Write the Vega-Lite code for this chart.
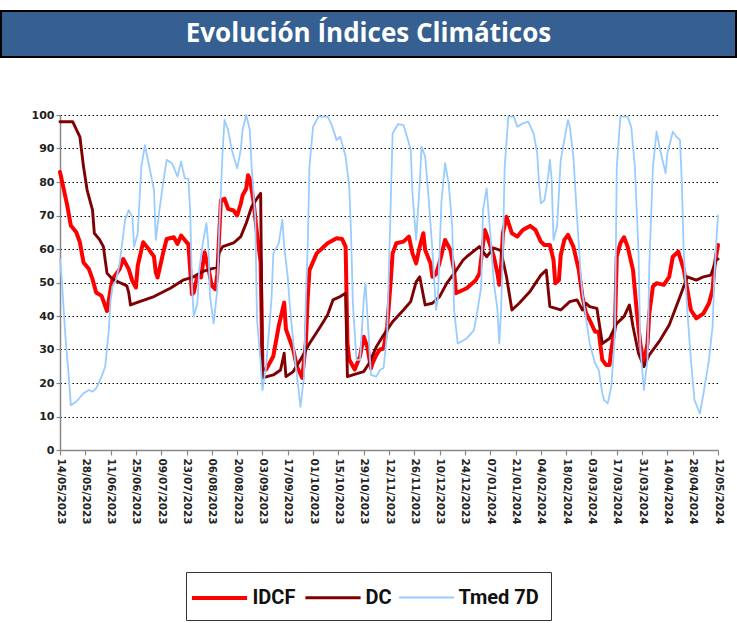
{
"$schema": "https://vega.github.io/schema/vega-lite/v6.json",
"padding": {"top": 10, "left": 0, "right": 0, "bottom": 0},
"autosize": {"type": "pad"},
"spacing": 51,
"config": {"view": {"stroke": null}, "font": "DejaVu Sans",
"legend": {"orient": "none", "legendX": 185, "legendY": 561, "direction": "horizontal", "title": null,
"symbolType": "M-2.3,0L2.3,0", "symbolSize": 576, "symbolOffset": 7.5, "labelFont": "Roboto", "labelFontWeight": "bold", "labelFontSize": 20, "labelColor": "#111111",
"strokeColor": "#333333", "padding": 12, "columnPadding": 3, "labelOffset": 19}},
"vconcat": [
{
"data": {"values": [{"t": "Evolución Índices Climáticos"}]},
"width": 735, "height": 46,
"view": {"fill": "#366092", "stroke": "#000000", "strokeWidth": 2},
"mark": {"type": "text", "font": "Open Sans", "fontWeight": "bold", "fontSize": 26, "color": "#ffffff"},
"encoding": {"text": {"field": "t"}}
},
{
"data": {"values": [
{"s":"IDCF","d":"2023-05-14","v":83},{"s":"IDCF","d":"2023-05-16","v":78},{"s":"IDCF","d":"2023-05-18","v":73},{"s":"IDCF","d":"2023-05-20","v":67},{"s":"IDCF","d":"2023-05-23","v":65},{"s":"IDCF","d":"2023-05-25","v":62},{"s":"IDCF","d":"2023-05-27","v":56},{"s":"IDCF","d":"2023-05-30","v":54},{"s":"IDCF","d":"2023-06-01","v":51},{"s":"IDCF","d":"2023-06-03","v":47},{"s":"IDCF","d":"2023-06-06","v":46},{"s":"IDCF","d":"2023-06-08","v":43},{"s":"IDCF","d":"2023-06-09","v":41.5},{"s":"IDCF","d":"2023-06-11","v":48},{"s":"IDCF","d":"2023-06-12","v":51},{"s":"IDCF","d":"2023-06-16","v":54},{"s":"IDCF","d":"2023-06-18","v":57},{"s":"IDCF","d":"2023-06-21","v":54},{"s":"IDCF","d":"2023-06-23","v":50.5},{"s":"IDCF","d":"2023-06-25","v":48.5},{"s":"IDCF","d":"2023-06-26","v":55},{"s":"IDCF","d":"2023-06-29","v":62},{"s":"IDCF","d":"2023-07-02","v":60},{"s":"IDCF","d":"2023-07-05","v":57.7},{"s":"IDCF","d":"2023-07-06","v":53},{"s":"IDCF","d":"2023-07-07","v":51.5},{"s":"IDCF","d":"2023-07-10","v":58.7},{"s":"IDCF","d":"2023-07-12","v":63},{"s":"IDCF","d":"2023-07-16","v":63.5},{"s":"IDCF","d":"2023-07-18","v":61.5},{"s":"IDCF","d":"2023-07-20","v":64},{"s":"IDCF","d":"2023-07-23","v":62},{"s":"IDCF","d":"2023-07-24","v":61.5},{"s":"IDCF","d":"2023-07-26","v":46.5},{"s":"IDCF","d":"2023-07-27","v":47},{"s":"IDCF","d":"2023-07-29","v":52},{"s":"IDCF","d":"2023-07-31","v":51.5},{"s":"IDCF","d":"2023-08-02","v":59},{"s":"IDCF","d":"2023-08-04","v":54.5},{"s":"IDCF","d":"2023-08-06","v":49},{"s":"IDCF","d":"2023-08-08","v":48},{"s":"IDCF","d":"2023-08-09","v":52.5},{"s":"IDCF","d":"2023-08-11","v":74.5},{"s":"IDCF","d":"2023-08-13","v":75},{"s":"IDCF","d":"2023-08-15","v":72},{"s":"IDCF","d":"2023-08-18","v":71.5},{"s":"IDCF","d":"2023-08-20","v":70},{"s":"IDCF","d":"2023-08-22","v":73.5},{"s":"IDCF","d":"2023-08-23","v":76},{"s":"IDCF","d":"2023-08-25","v":78},{"s":"IDCF","d":"2023-08-26","v":82},{"s":"IDCF","d":"2023-08-27","v":81},{"s":"IDCF","d":"2023-08-29","v":74.5},{"s":"IDCF","d":"2023-08-31","v":64.5},{"s":"IDCF","d":"2023-09-02","v":56},{"s":"IDCF","d":"2023-09-03","v":24},{"s":"IDCF","d":"2023-09-05","v":24},{"s":"IDCF","d":"2023-09-09","v":28},{"s":"IDCF","d":"2023-09-12","v":37},{"s":"IDCF","d":"2023-09-15","v":44},{"s":"IDCF","d":"2023-09-16","v":36},{"s":"IDCF","d":"2023-09-20","v":30},{"s":"IDCF","d":"2023-09-22","v":25},{"s":"IDCF","d":"2023-09-25","v":21.5},{"s":"IDCF","d":"2023-09-27","v":32},{"s":"IDCF","d":"2023-09-28","v":45},{"s":"IDCF","d":"2023-09-29","v":53.7},{"s":"IDCF","d":"2023-10-03","v":58.7},{"s":"IDCF","d":"2023-10-09","v":61.7},{"s":"IDCF","d":"2023-10-14","v":63.2},{"s":"IDCF","d":"2023-10-17","v":63},{"s":"IDCF","d":"2023-10-19","v":60.7},{"s":"IDCF","d":"2023-10-20","v":32},{"s":"IDCF","d":"2023-10-21","v":27},{"s":"IDCF","d":"2023-10-24","v":24},{"s":"IDCF","d":"2023-10-27","v":28},{"s":"IDCF","d":"2023-10-29","v":33.8},{"s":"IDCF","d":"2023-10-31","v":30.8},{"s":"IDCF","d":"2023-11-02","v":24.4},{"s":"IDCF","d":"2023-11-03","v":26},{"s":"IDCF","d":"2023-11-05","v":28.4},{"s":"IDCF","d":"2023-11-07","v":30},{"s":"IDCF","d":"2023-11-09","v":30.3},{"s":"IDCF","d":"2023-11-11","v":36.8},{"s":"IDCF","d":"2023-11-13","v":50.7},{"s":"IDCF","d":"2023-11-14","v":58.7},{"s":"IDCF","d":"2023-11-16","v":61.7},{"s":"IDCF","d":"2023-11-20","v":62.2},{"s":"IDCF","d":"2023-11-23","v":63.7},{"s":"IDCF","d":"2023-11-25","v":58.7},{"s":"IDCF","d":"2023-11-27","v":55.7},{"s":"IDCF","d":"2023-11-29","v":60.7},{"s":"IDCF","d":"2023-12-01","v":64.7},{"s":"IDCF","d":"2023-12-02","v":59.7},{"s":"IDCF","d":"2023-12-05","v":55.7},{"s":"IDCF","d":"2023-12-06","v":51.7},{"s":"IDCF","d":"2023-12-08","v":52.5},{"s":"IDCF","d":"2023-12-10","v":56},{"s":"IDCF","d":"2023-12-13","v":62.7},{"s":"IDCF","d":"2023-12-16","v":59.7},{"s":"IDCF","d":"2023-12-18","v":53.7},{"s":"IDCF","d":"2023-12-19","v":46.8},{"s":"IDCF","d":"2023-12-25","v":48.3},{"s":"IDCF","d":"2023-12-30","v":50.7},{"s":"IDCF","d":"2024-01-01","v":52.7},{"s":"IDCF","d":"2024-01-04","v":65.7},{"s":"IDCF","d":"2024-01-06","v":62.7},{"s":"IDCF","d":"2024-01-09","v":57.7},{"s":"IDCF","d":"2024-01-11","v":52.7},{"s":"IDCF","d":"2024-01-12","v":49.3},{"s":"IDCF","d":"2024-01-13","v":54.7},{"s":"IDCF","d":"2024-01-14","v":64.7},{"s":"IDCF","d":"2024-01-16","v":69.6},{"s":"IDCF","d":"2024-01-19","v":64.7},{"s":"IDCF","d":"2024-01-22","v":63.7},{"s":"IDCF","d":"2024-01-25","v":65.7},{"s":"IDCF","d":"2024-01-29","v":66.9},{"s":"IDCF","d":"2024-02-01","v":65.7},{"s":"IDCF","d":"2024-02-04","v":62.2},{"s":"IDCF","d":"2024-02-06","v":61.2},{"s":"IDCF","d":"2024-02-09","v":61.2},{"s":"IDCF","d":"2024-02-11","v":56.7},{"s":"IDCF","d":"2024-02-12","v":49.8},{"s":"IDCF","d":"2024-02-14","v":50.7},{"s":"IDCF","d":"2024-02-15","v":58.2},{"s":"IDCF","d":"2024-02-17","v":62.7},{"s":"IDCF","d":"2024-02-19","v":64.2},{"s":"IDCF","d":"2024-02-22","v":60.7},{"s":"IDCF","d":"2024-02-25","v":53.7},{"s":"IDCF","d":"2024-02-27","v":45.8},{"s":"IDCF","d":"2024-02-29","v":40.8},{"s":"IDCF","d":"2024-03-02","v":38.8},{"s":"IDCF","d":"2024-03-05","v":35.3},{"s":"IDCF","d":"2024-03-07","v":35.3},{"s":"IDCF","d":"2024-03-09","v":26.9},{"s":"IDCF","d":"2024-03-11","v":25.4},{"s":"IDCF","d":"2024-03-13","v":25.4},{"s":"IDCF","d":"2024-03-14","v":29.9},{"s":"IDCF","d":"2024-03-16","v":36.8},{"s":"IDCF","d":"2024-03-17","v":57.7},{"s":"IDCF","d":"2024-03-19","v":61.7},{"s":"IDCF","d":"2024-03-21","v":63.5},{"s":"IDCF","d":"2024-03-23","v":60.7},{"s":"IDCF","d":"2024-03-26","v":53.7},{"s":"IDCF","d":"2024-03-28","v":41.8},{"s":"IDCF","d":"2024-03-30","v":31.8},{"s":"IDCF","d":"2024-04-01","v":25.9},{"s":"IDCF","d":"2024-04-03","v":31.8},{"s":"IDCF","d":"2024-04-04","v":40.8},{"s":"IDCF","d":"2024-04-06","v":48.8},{"s":"IDCF","d":"2024-04-08","v":49.8},{"s":"IDCF","d":"2024-04-12","v":49.3},{"s":"IDCF","d":"2024-04-15","v":51.7},{"s":"IDCF","d":"2024-04-17","v":57.7},{"s":"IDCF","d":"2024-04-20","v":59.2},{"s":"IDCF","d":"2024-04-23","v":54},{"s":"IDCF","d":"2024-04-25","v":48},{"s":"IDCF","d":"2024-04-27","v":41.8},{"s":"IDCF","d":"2024-04-30","v":39.3},{"s":"IDCF","d":"2024-05-04","v":40.8},{"s":"IDCF","d":"2024-05-07","v":43.8},{"s":"IDCF","d":"2024-05-09","v":47.8},{"s":"IDCF","d":"2024-05-10","v":54.7},{"s":"IDCF","d":"2024-05-12","v":61.2},
{"s":"DC","d":"2023-05-14","v":98},{"s":"DC","d":"2023-05-21","v":98},{"s":"DC","d":"2023-05-25","v":93.5},{"s":"DC","d":"2023-05-27","v":84.6},{"s":"DC","d":"2023-05-29","v":77.6},{"s":"DC","d":"2023-06-01","v":71.6},{"s":"DC","d":"2023-06-02","v":64.7},{"s":"DC","d":"2023-06-05","v":62.7},{"s":"DC","d":"2023-06-07","v":60.7},{"s":"DC","d":"2023-06-09","v":52.8},{"s":"DC","d":"2023-06-12","v":51},{"s":"DC","d":"2023-06-16","v":50},{"s":"DC","d":"2023-06-20","v":49},{"s":"DC","d":"2023-06-21","v":47},{"s":"DC","d":"2023-06-22","v":43.3},{"s":"DC","d":"2023-06-27","v":44.3},{"s":"DC","d":"2023-07-05","v":45.8},{"s":"DC","d":"2023-07-14","v":48.3},{"s":"DC","d":"2023-07-21","v":50.7},{"s":"DC","d":"2023-07-27","v":51.7},{"s":"DC","d":"2023-07-29","v":52.4},{"s":"DC","d":"2023-08-02","v":53.5},{"s":"DC","d":"2023-08-09","v":54.6},{"s":"DC","d":"2023-08-10","v":58.8},{"s":"DC","d":"2023-08-12","v":60.7},{"s":"DC","d":"2023-08-18","v":61.8},{"s":"DC","d":"2023-08-22","v":63.7},{"s":"DC","d":"2023-08-25","v":67.7},{"s":"DC","d":"2023-08-28","v":72.6},{"s":"DC","d":"2023-08-31","v":75.1},{"s":"DC","d":"2023-09-02","v":76.6},{"s":"DC","d":"2023-09-03","v":21.5},{"s":"DC","d":"2023-09-09","v":22.4},{"s":"DC","d":"2023-09-13","v":23.9},{"s":"DC","d":"2023-09-15","v":28.9},{"s":"DC","d":"2023-09-16","v":21.9},{"s":"DC","d":"2023-09-20","v":23.4},{"s":"DC","d":"2023-09-24","v":26.9},{"s":"DC","d":"2023-09-29","v":31.8},{"s":"DC","d":"2023-10-05","v":36.8},{"s":"DC","d":"2023-10-09","v":40.3},{"s":"DC","d":"2023-10-12","v":44.8},{"s":"DC","d":"2023-10-16","v":45.8},{"s":"DC","d":"2023-10-19","v":46.8},{"s":"DC","d":"2023-10-20","v":21.9},{"s":"DC","d":"2023-10-23","v":22.4},{"s":"DC","d":"2023-10-29","v":23.4},{"s":"DC","d":"2023-11-01","v":25.9},{"s":"DC","d":"2023-11-05","v":30.8},{"s":"DC","d":"2023-11-09","v":34.3},{"s":"DC","d":"2023-11-14","v":38.3},{"s":"DC","d":"2023-11-20","v":41.8},{"s":"DC","d":"2023-11-24","v":44.3},{"s":"DC","d":"2023-11-27","v":50.2},{"s":"DC","d":"2023-11-29","v":51.7},{"s":"DC","d":"2023-12-02","v":43.3},{"s":"DC","d":"2023-12-06","v":43.8},{"s":"DC","d":"2023-12-10","v":45.8},{"s":"DC","d":"2023-12-14","v":49.8},{"s":"DC","d":"2023-12-18","v":52.7},{"s":"DC","d":"2023-12-23","v":56.7},{"s":"DC","d":"2023-12-25","v":57.7},{"s":"DC","d":"2024-01-01","v":60.7},{"s":"DC","d":"2024-01-05","v":57.7},{"s":"DC","d":"2024-01-09","v":60.3},{"s":"DC","d":"2024-01-13","v":59.5},{"s":"DC","d":"2024-01-14","v":56.7},{"s":"DC","d":"2024-01-16","v":51.7},{"s":"DC","d":"2024-01-19","v":41.8},{"s":"DC","d":"2024-01-23","v":43.8},{"s":"DC","d":"2024-01-29","v":47.3},{"s":"DC","d":"2024-02-04","v":52.2},{"s":"DC","d":"2024-02-07","v":53.7},{"s":"DC","d":"2024-02-09","v":42.8},{"s":"DC","d":"2024-02-15","v":41.8},{"s":"DC","d":"2024-02-20","v":44.3},{"s":"DC","d":"2024-02-24","v":44.8},{"s":"DC","d":"2024-02-27","v":41.8},{"s":"DC","d":"2024-02-29","v":43.8},{"s":"DC","d":"2024-03-02","v":42.8},{"s":"DC","d":"2024-03-06","v":42.3},{"s":"DC","d":"2024-03-09","v":31.8},{"s":"DC","d":"2024-03-13","v":33.3},{"s":"DC","d":"2024-03-17","v":37.8},{"s":"DC","d":"2024-03-21","v":39.8},{"s":"DC","d":"2024-03-24","v":43.3},{"s":"DC","d":"2024-03-26","v":36.8},{"s":"DC","d":"2024-03-29","v":28.9},{"s":"DC","d":"2024-04-01","v":24.9},{"s":"DC","d":"2024-04-04","v":28.4},{"s":"DC","d":"2024-04-10","v":32.8},{"s":"DC","d":"2024-04-15","v":37.3},{"s":"DC","d":"2024-04-21","v":45.8},{"s":"DC","d":"2024-04-25","v":51.7},{"s":"DC","d":"2024-04-30","v":50.7},{"s":"DC","d":"2024-05-04","v":51.7},{"s":"DC","d":"2024-05-08","v":52.2},{"s":"DC","d":"2024-05-11","v":56.7},{"s":"DC","d":"2024-05-12","v":57},
{"s":"Tmed 7D","d":"2023-05-14","v":57},{"s":"Tmed 7D","d":"2023-05-15","v":50.7},{"s":"Tmed 7D","d":"2023-05-17","v":33.8},{"s":"Tmed 7D","d":"2023-05-19","v":20.9},{"s":"Tmed 7D","d":"2023-05-20","v":13.4},{"s":"Tmed 7D","d":"2023-05-23","v":14.4},{"s":"Tmed 7D","d":"2023-05-27","v":16.9},{"s":"Tmed 7D","d":"2023-05-30","v":17.9},{"s":"Tmed 7D","d":"2023-06-01","v":17.4},{"s":"Tmed 7D","d":"2023-06-03","v":18.4},{"s":"Tmed 7D","d":"2023-06-06","v":21.9},{"s":"Tmed 7D","d":"2023-06-08","v":24.9},{"s":"Tmed 7D","d":"2023-06-10","v":35.8},{"s":"Tmed 7D","d":"2023-06-11","v":44.8},{"s":"Tmed 7D","d":"2023-06-12","v":48.8},{"s":"Tmed 7D","d":"2023-06-14","v":50.7},{"s":"Tmed 7D","d":"2023-06-16","v":55.7},{"s":"Tmed 7D","d":"2023-06-19","v":68.7},{"s":"Tmed 7D","d":"2023-06-21","v":71.6},{"s":"Tmed 7D","d":"2023-06-23","v":69.6},{"s":"Tmed 7D","d":"2023-06-24","v":60.7},{"s":"Tmed 7D","d":"2023-06-26","v":64.7},{"s":"Tmed 7D","d":"2023-06-28","v":84.6},{"s":"Tmed 7D","d":"2023-06-30","v":91},{"s":"Tmed 7D","d":"2023-07-02","v":85.6},{"s":"Tmed 7D","d":"2023-07-05","v":77.6},{"s":"Tmed 7D","d":"2023-07-06","v":62.7},{"s":"Tmed 7D","d":"2023-07-08","v":71.6},{"s":"Tmed 7D","d":"2023-07-10","v":79.6},{"s":"Tmed 7D","d":"2023-07-12","v":86.6},{"s":"Tmed 7D","d":"2023-07-15","v":85.6},{"s":"Tmed 7D","d":"2023-07-18","v":81.6},{"s":"Tmed 7D","d":"2023-07-20","v":86.1},{"s":"Tmed 7D","d":"2023-07-22","v":81.1},{"s":"Tmed 7D","d":"2023-07-24","v":81},{"s":"Tmed 7D","d":"2023-07-25","v":71.6},{"s":"Tmed 7D","d":"2023-07-26","v":48.8},{"s":"Tmed 7D","d":"2023-07-27","v":39.8},{"s":"Tmed 7D","d":"2023-07-29","v":43.8},{"s":"Tmed 7D","d":"2023-07-30","v":53.7},{"s":"Tmed 7D","d":"2023-08-01","v":61.7},{"s":"Tmed 7D","d":"2023-08-03","v":67.7},{"s":"Tmed 7D","d":"2023-08-04","v":61.7},{"s":"Tmed 7D","d":"2023-08-05","v":45.8},{"s":"Tmed 7D","d":"2023-08-07","v":37.8},{"s":"Tmed 7D","d":"2023-08-09","v":47.8},{"s":"Tmed 7D","d":"2023-08-10","v":64.7},{"s":"Tmed 7D","d":"2023-08-12","v":89.6},{"s":"Tmed 7D","d":"2023-08-13","v":98.5},{"s":"Tmed 7D","d":"2023-08-15","v":95.5},{"s":"Tmed 7D","d":"2023-08-17","v":89.6},{"s":"Tmed 7D","d":"2023-08-20","v":84.1},{"s":"Tmed 7D","d":"2023-08-22","v":89.6},{"s":"Tmed 7D","d":"2023-08-23","v":95.5},{"s":"Tmed 7D","d":"2023-08-25","v":100},{"s":"Tmed 7D","d":"2023-08-27","v":95.5},{"s":"Tmed 7D","d":"2023-08-28","v":84.6},{"s":"Tmed 7D","d":"2023-08-30","v":69.6},{"s":"Tmed 7D","d":"2023-08-31","v":38.8},{"s":"Tmed 7D","d":"2023-09-02","v":25.9},{"s":"Tmed 7D","d":"2023-09-03","v":17.9},{"s":"Tmed 7D","d":"2023-09-05","v":24.9},{"s":"Tmed 7D","d":"2023-09-08","v":45},{"s":"Tmed 7D","d":"2023-09-09","v":58.7},{"s":"Tmed 7D","d":"2023-09-12","v":61.7},{"s":"Tmed 7D","d":"2023-09-14","v":68.7},{"s":"Tmed 7D","d":"2023-09-15","v":60.7},{"s":"Tmed 7D","d":"2023-09-17","v":51.7},{"s":"Tmed 7D","d":"2023-09-18","v":43.8},{"s":"Tmed 7D","d":"2023-09-21","v":26.9},{"s":"Tmed 7D","d":"2023-09-23","v":17.9},{"s":"Tmed 7D","d":"2023-09-24","v":12.9},{"s":"Tmed 7D","d":"2023-09-26","v":21.9},{"s":"Tmed 7D","d":"2023-09-27","v":45},{"s":"Tmed 7D","d":"2023-09-28","v":60},{"s":"Tmed 7D","d":"2023-09-29","v":84.6},{"s":"Tmed 7D","d":"2023-10-01","v":96.5},{"s":"Tmed 7D","d":"2023-10-04","v":99.5},{"s":"Tmed 7D","d":"2023-10-09","v":99.5},{"s":"Tmed 7D","d":"2023-10-11","v":97.5},{"s":"Tmed 7D","d":"2023-10-14","v":92.5},{"s":"Tmed 7D","d":"2023-10-16","v":93.5},{"s":"Tmed 7D","d":"2023-10-19","v":87.6},{"s":"Tmed 7D","d":"2023-10-21","v":78.6},{"s":"Tmed 7D","d":"2023-10-22","v":64.7},{"s":"Tmed 7D","d":"2023-10-23","v":43.8},{"s":"Tmed 7D","d":"2023-10-25","v":26.9},{"s":"Tmed 7D","d":"2023-10-27","v":26.9},{"s":"Tmed 7D","d":"2023-10-29","v":44.8},{"s":"Tmed 7D","d":"2023-10-30","v":49.8},{"s":"Tmed 7D","d":"2023-11-01","v":31.8},{"s":"Tmed 7D","d":"2023-11-02","v":22.4},{"s":"Tmed 7D","d":"2023-11-05","v":21.9},{"s":"Tmed 7D","d":"2023-11-07","v":23.9},{"s":"Tmed 7D","d":"2023-11-09","v":24.5},{"s":"Tmed 7D","d":"2023-11-11","v":35},{"s":"Tmed 7D","d":"2023-11-13","v":74.6},{"s":"Tmed 7D","d":"2023-11-14","v":94.5},{"s":"Tmed 7D","d":"2023-11-17","v":97.3},{"s":"Tmed 7D","d":"2023-11-20","v":97},{"s":"Tmed 7D","d":"2023-11-22","v":93.5},{"s":"Tmed 7D","d":"2023-11-24","v":89.6},{"s":"Tmed 7D","d":"2023-11-25","v":76.6},{"s":"Tmed 7D","d":"2023-11-27","v":62.7},{"s":"Tmed 7D","d":"2023-11-29","v":79.6},{"s":"Tmed 7D","d":"2023-11-30","v":90.5},{"s":"Tmed 7D","d":"2023-12-02","v":87.6},{"s":"Tmed 7D","d":"2023-12-04","v":74.6},{"s":"Tmed 7D","d":"2023-12-06","v":59.7},{"s":"Tmed 7D","d":"2023-12-08","v":41.8},{"s":"Tmed 7D","d":"2023-12-09","v":45},{"s":"Tmed 7D","d":"2023-12-11","v":74},{"s":"Tmed 7D","d":"2023-12-13","v":85.6},{"s":"Tmed 7D","d":"2023-12-15","v":79.6},{"s":"Tmed 7D","d":"2023-12-17","v":66.7},{"s":"Tmed 7D","d":"2023-12-18","v":41.8},{"s":"Tmed 7D","d":"2023-12-20","v":31.8},{"s":"Tmed 7D","d":"2023-12-25","v":33.3},{"s":"Tmed 7D","d":"2023-12-29","v":35.8},{"s":"Tmed 7D","d":"2023-12-31","v":41.8},{"s":"Tmed 7D","d":"2024-01-02","v":48.8},{"s":"Tmed 7D","d":"2024-01-03","v":71.6},{"s":"Tmed 7D","d":"2024-01-05","v":78.1},{"s":"Tmed 7D","d":"2024-01-07","v":64.7},{"s":"Tmed 7D","d":"2024-01-09","v":50},{"s":"Tmed 7D","d":"2024-01-11","v":41.8},{"s":"Tmed 7D","d":"2024-01-12","v":31.8},{"s":"Tmed 7D","d":"2024-01-13","v":41.8},{"s":"Tmed 7D","d":"2024-01-14","v":60},{"s":"Tmed 7D","d":"2024-01-15","v":84.6},{"s":"Tmed 7D","d":"2024-01-17","v":99.5},{"s":"Tmed 7D","d":"2024-01-20","v":99.5},{"s":"Tmed 7D","d":"2024-01-22","v":96.5},{"s":"Tmed 7D","d":"2024-01-25","v":97.5},{"s":"Tmed 7D","d":"2024-01-28","v":98},{"s":"Tmed 7D","d":"2024-01-31","v":94.5},{"s":"Tmed 7D","d":"2024-02-02","v":88.6},{"s":"Tmed 7D","d":"2024-02-03","v":79.6},{"s":"Tmed 7D","d":"2024-02-04","v":73.6},{"s":"Tmed 7D","d":"2024-02-06","v":74.6},{"s":"Tmed 7D","d":"2024-02-08","v":81.6},{"s":"Tmed 7D","d":"2024-02-09","v":86.6},{"s":"Tmed 7D","d":"2024-02-10","v":80.6},{"s":"Tmed 7D","d":"2024-02-11","v":62.7},{"s":"Tmed 7D","d":"2024-02-13","v":66.7},{"s":"Tmed 7D","d":"2024-02-15","v":86.6},{"s":"Tmed 7D","d":"2024-02-16","v":89.6},{"s":"Tmed 7D","d":"2024-02-19","v":98.5},{"s":"Tmed 7D","d":"2024-02-20","v":96.5},{"s":"Tmed 7D","d":"2024-02-22","v":87.6},{"s":"Tmed 7D","d":"2024-02-24","v":69.6},{"s":"Tmed 7D","d":"2024-02-26","v":52.7},{"s":"Tmed 7D","d":"2024-02-27","v":46.8},{"s":"Tmed 7D","d":"2024-03-02","v":31.8},{"s":"Tmed 7D","d":"2024-03-05","v":25.9},{"s":"Tmed 7D","d":"2024-03-07","v":23.9},{"s":"Tmed 7D","d":"2024-03-09","v":16.9},{"s":"Tmed 7D","d":"2024-03-10","v":14.9},{"s":"Tmed 7D","d":"2024-03-12","v":13.9},{"s":"Tmed 7D","d":"2024-03-14","v":18.9},{"s":"Tmed 7D","d":"2024-03-16","v":34.8},{"s":"Tmed 7D","d":"2024-03-17","v":84.6},{"s":"Tmed 7D","d":"2024-03-19","v":99.5},{"s":"Tmed 7D","d":"2024-03-23","v":99.5},{"s":"Tmed 7D","d":"2024-03-25","v":96.5},{"s":"Tmed 7D","d":"2024-03-27","v":84.6},{"s":"Tmed 7D","d":"2024-03-29","v":59.7},{"s":"Tmed 7D","d":"2024-03-30","v":30.8},{"s":"Tmed 7D","d":"2024-04-01","v":17.9},{"s":"Tmed 7D","d":"2024-04-03","v":26.9},{"s":"Tmed 7D","d":"2024-04-04","v":55},{"s":"Tmed 7D","d":"2024-04-06","v":84.6},{"s":"Tmed 7D","d":"2024-04-08","v":95},{"s":"Tmed 7D","d":"2024-04-10","v":89.6},{"s":"Tmed 7D","d":"2024-04-13","v":82.6},{"s":"Tmed 7D","d":"2024-04-14","v":88.6},{"s":"Tmed 7D","d":"2024-04-17","v":95},{"s":"Tmed 7D","d":"2024-04-19","v":93.5},{"s":"Tmed 7D","d":"2024-04-21","v":92.5},{"s":"Tmed 7D","d":"2024-04-22","v":79.6},{"s":"Tmed 7D","d":"2024-04-23","v":59.7},{"s":"Tmed 7D","d":"2024-04-25","v":41.8},{"s":"Tmed 7D","d":"2024-04-27","v":26.9},{"s":"Tmed 7D","d":"2024-04-29","v":14.9},{"s":"Tmed 7D","d":"2024-05-02","v":10.9},{"s":"Tmed 7D","d":"2024-05-04","v":16.9},{"s":"Tmed 7D","d":"2024-05-07","v":26.9},{"s":"Tmed 7D","d":"2024-05-09","v":36.8},{"s":"Tmed 7D","d":"2024-05-10","v":51.7},{"s":"Tmed 7D","d":"2024-05-11","v":61.7},{"s":"Tmed 7D","d":"2024-05-12","v":70}
]},
"width": 735,
"height": 335,
"mark": {"type": "line", "interpolate": "linear", "strokeJoin": "round", "strokeCap": "round"},
"encoding": {
"x": {"field": "d", "type": "temporal",
"scale": {"type": "utc", "nice": false, "range": [59, 717], "domain": [{"year": 2023, "month": 5, "date": 14, "utc": true}, {"year": 2024, "month": 5, "date": 12, "utc": true}]},
"axis": {"title": null, "labelExpr": "utcFormat(datum.value, '%d/%m/%Y')", "labelAngle": 90, "labelOverlap": false, "labelFlush": false,
"labelFont": "DejaVu Sans", "labelFontWeight": "bold", "labelFontSize": 10.5, "labelColor": "#222222", "labelPadding": 3,
"domainColor": "#888888", "domainWidth": 1.5, "tickColor": "#888888", "tickSize": 5, "tickWidth": 1.2, "grid": false,
"values": [{"year":2023,"month":5,"date":14,"utc":true},{"year":2023,"month":5,"date":28,"utc":true},{"year":2023,"month":6,"date":11,"utc":true},{"year":2023,"month":6,"date":25,"utc":true},{"year":2023,"month":7,"date":9,"utc":true},{"year":2023,"month":7,"date":23,"utc":true},{"year":2023,"month":8,"date":6,"utc":true},{"year":2023,"month":8,"date":20,"utc":true},{"year":2023,"month":9,"date":3,"utc":true},{"year":2023,"month":9,"date":17,"utc":true},{"year":2023,"month":10,"date":1,"utc":true},{"year":2023,"month":10,"date":15,"utc":true},{"year":2023,"month":10,"date":29,"utc":true},{"year":2023,"month":11,"date":12,"utc":true},{"year":2023,"month":11,"date":26,"utc":true},{"year":2023,"month":12,"date":10,"utc":true},{"year":2023,"month":12,"date":24,"utc":true},{"year":2024,"month":1,"date":7,"utc":true},{"year":2024,"month":1,"date":21,"utc":true},{"year":2024,"month":2,"date":4,"utc":true},{"year":2024,"month":2,"date":18,"utc":true},{"year":2024,"month":3,"date":3,"utc":true},{"year":2024,"month":3,"date":17,"utc":true},{"year":2024,"month":3,"date":31,"utc":true},{"year":2024,"month":4,"date":14,"utc":true},{"year":2024,"month":4,"date":28,"utc":true},{"year":2024,"month":5,"date":12,"utc":true}]}},
"y": {"field": "v", "type": "quantitative",
"scale": {"domain": [0, 100], "nice": false},
"axis": {"title": null, "values": [0,10,20,30,40,50,60,70,80,90,100], "offset": -59,
"labelFont": "DejaVu Sans", "labelFontWeight": "bold", "labelFontSize": 11, "labelColor": "#222222", "labelPadding": 2,
"domainColor": "#888888", "domainWidth": 1.5, "tickColor": "#888888", "tickSize": 4, "tickWidth": 1.2,
"grid": true, "gridColor": "#000000", "gridDash": [1.5, 2.5], "gridWidth": 1.2,
"gridOpacity": {"condition": {"test": "datum.value === 0", "value": 0}, "value": 1},
"minExtent": 0}},
"color": {"field": "s", "type": "ordinal",
"scale": {"domain": ["IDCF", "DC", "Tmed 7D"], "range": ["#ff0000", "#7f0000", "#99ccff"]}},
"strokeWidth": {"field": "s", "type": "ordinal",
"scale": {"domain": ["IDCF", "DC", "Tmed 7D"], "range": [4, 1.8, 2.2]}}
}
}
]
}
